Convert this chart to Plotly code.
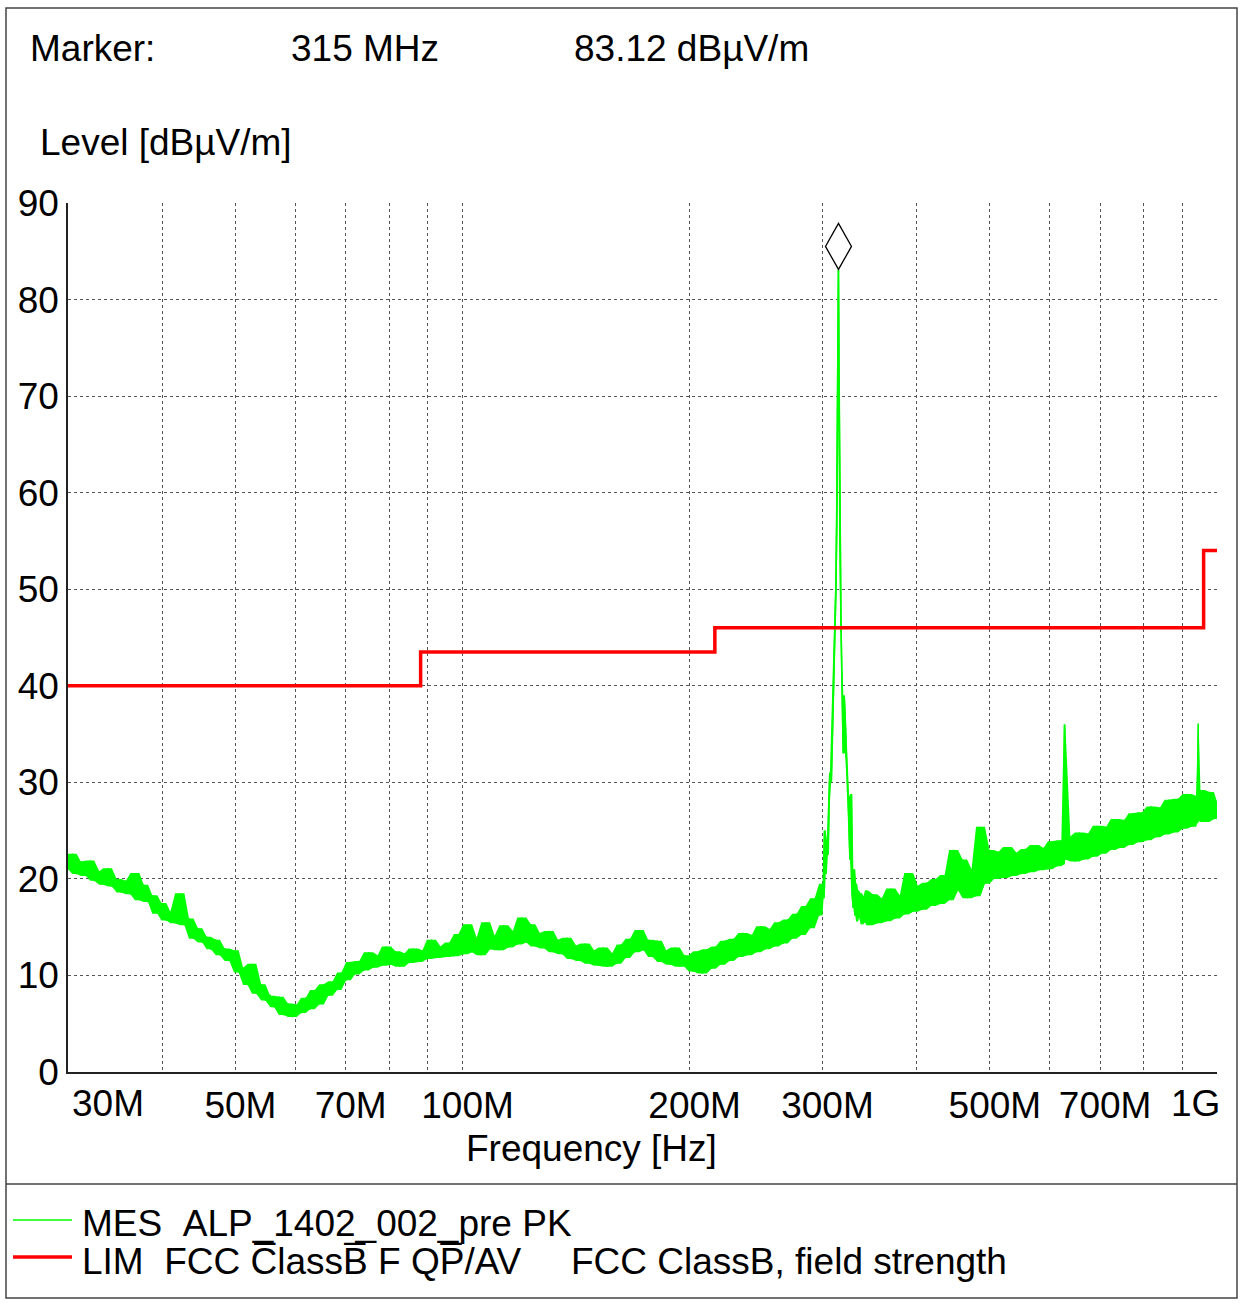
import math
import plotly.graph_objects as go

# ---------------- data ----------------
freq_mhz = [
    30.0, 30.4, 30.8, 31.2, 31.7, 32.1, 32.5, 33.0, 33.4, 33.9, 34.3, 34.8, 35.3, 35.8, 36.3, 36.8,
    37.3, 37.8, 38.3, 38.8, 39.4, 39.9, 40.5, 41.0, 41.6, 42.2, 42.8, 43.4, 44.0, 44.6, 45.2, 45.8,
    46.4, 47.1, 47.7, 48.4, 49.1, 49.8, 50.5, 51.2, 51.9, 52.6, 53.3, 54.1, 54.8, 55.6, 56.3, 57.1,
    57.9, 58.7, 59.5, 60.3,
    61.1, 62.0, 62.8, 63.7, 64.6, 65.5, 66.4, 67.3, 68.2, 69.1, 70.1, 71.1, 72.0, 73.0, 74.0, 75.1,
    76.1, 77.2, 78.2, 79.3, 80.4, 81.5, 82.6, 83.8, 84.9, 86.1, 87.3, 88.5, 89.7, 91.0, 92.2, 93.5,
    94.8, 96.1, 97.4, 98.8, 100.2,
    101.6, 103.0, 104.4, 105.9, 107.3, 108.8, 110.3, 111.9, 113.4, 115.0, 116.6, 118.2, 119.8, 121.5,
    123.2, 124.9, 126.6, 128.4, 130.2, 132.0, 133.8, 135.7, 137.5, 139.4, 141.4, 143.3, 145.3, 147.4,
    149.4, 151.5, 153.6, 155.7, 157.9, 160.1, 162.3, 164.5, 166.8, 169.1, 171.5, 173.8, 176.2, 178.7,
    181.2, 183.7, 186.2, 188.8, 191.4, 194.1, 196.8, 199.5,
    202.3, 205.1, 207.9, 210.8, 213.7, 216.6, 219.6, 222.7, 225.7, 228.9, 232.0, 235.2, 238.5, 241.8,
    245.1, 248.5, 251.9, 255.4, 258.9, 262.5, 266.1, 269.8, 273.5, 277.3, 281.1, 285.0, 288.9, 292.9,
    296.9, 300.0,
    301.0, 302.1, 303.0, 304.0, 305.0, 306.0, 306.9, 308.0, 309.0, 310.1, 311.0, 311.7, 312.5, 313.3,
    314.2, 315.0, 315.6, 316.5, 317.3, 318.1, 318.8, 319.7, 320.5, 321.3, 322.2, 323.0, 323.8, 324.6,
    325.4, 326.3, 327.5, 328.6, 329.6, 330.5, 331.5, 332.5, 333.5, 334.5, 335.5, 337.0, 338.5, 340.0,
    341.5, 343.0,
    345.0, 349.8, 354.6, 359.5, 364.5, 369.5, 374.6, 379.8, 385.0, 390.3, 395.7, 401.2, 406.7, 412.3,
    418.0, 423.8, 429.6, 435.5, 441.5, 447.6, 453.8, 460.0, 466.4, 472.8, 479.3, 485.9, 492.6, 499.4,
    506.3, 513.3, 520.4, 527.6, 534.9, 542.3, 549.8, 557.4, 565.1, 572.9, 580.8, 588.8, 596.9, 605.1,
    613.4, 621.9, 626.5, 628.0, 629.5, 639.2, 648.0, 656.9, 666.0, 675.2, 684.5, 693.9, 703.5, 713.2,
    723.0, 733.0, 743.1, 753.4, 763.8, 774.3, 785.0, 795.8, 806.8, 817.9, 829.2, 840.6, 852.2, 864.0,
    875.9, 888.0, 900.2, 912.6, 925.2, 937.9, 942.5, 944.0, 945.5, 950.8, 963.9, 977.2, 990.7, 1000.0,
]

level_dbuv = [
    21.0, 22.6, 20.5, 21.8, 20.3, 21.9, 19.8, 20.8, 19.4, 21.1, 19.2, 20.0, 18.6, 19.8, 18.4, 20.6,
    17.8, 19.4, 17.6, 18.3, 16.4, 17.5, 15.7, 16.6, 15.4, 18.5, 15.2, 15.9, 13.8, 14.9, 13.4, 14.0,
    12.7, 13.7, 12.1, 12.8, 11.5, 12.6, 10.3, 10.8, 9.0, 11.2, 8.1, 9.1, 7.4, 7.9, 6.7, 7.8,
    5.9, 7.1, 5.7, 7.0,
    6.1, 7.7, 6.5, 8.5, 7.0, 9.1, 7.9, 9.4, 8.5, 10.3, 9.5, 11.4, 10.1, 11.5, 10.5, 12.4,
    10.8, 12.1, 11.0, 13.0, 11.1, 12.5, 10.9, 12.3, 11.3, 12.8, 11.4, 12.6, 11.7, 13.7, 11.8, 13.0,
    11.9, 13.4, 12.0, 14.3, 12.2,
    15.3, 12.4, 13.9, 12.1, 15.5, 12.7, 14.1, 12.6, 15.2, 12.9, 14.6, 13.2, 16.0, 13.4,
    15.3, 13.0, 14.4, 12.8, 14.6, 12.4, 13.7, 12.2, 13.9, 11.7, 13.1, 11.5, 13.3, 11.2,
    12.6, 11.0, 12.9, 10.9, 12.3, 11.2, 13.2, 11.8, 13.8, 12.4, 14.7, 12.6, 13.7, 11.9,
    13.6, 11.4, 12.6, 11.1, 12.9, 10.9, 12.1, 11.3,
    10.4, 12.5, 10.2, 12.7, 10.7, 13.0, 11.1, 13.6, 11.5, 13.8, 11.9, 14.4, 12.1, 14.2,
    12.4, 15.1, 12.7, 14.8, 13.0, 15.5, 13.3, 15.8, 13.8, 16.4, 14.2, 17.2, 14.9, 18.0,
    16.2, 19.5,
    18.0, 25.0, 20.5, 24.0, 22.5, 28.0, 31.0, 30.0, 35.0, 38.0, 42.0, 47.5, 50.0, 57.0,
    68.0, 83.12, 70.0, 54.5, 47.0, 42.0, 38.0, 33.0, 39.0, 37.0, 33.0, 31.5, 29.5, 28.5,
    25.0, 22.0, 28.8, 18.5, 17.0, 21.0, 16.2, 19.5, 15.6, 18.8, 16.0, 18.5, 15.3, 18.2,
    15.5, 18.8,
    15.2, 18.4, 15.4, 18.0, 15.6, 19.0, 15.9, 18.3, 16.3, 20.6, 16.6, 19.3, 16.8, 19.6,
    17.2, 20.0, 17.4, 20.4, 17.8, 23.0, 18.8, 22.0, 18.0, 21.0, 18.2, 25.4, 19.5, 23.0,
    20.0, 22.8, 20.1, 23.3, 20.3, 22.7, 20.5, 23.1, 20.7, 23.5, 20.9, 23.2, 21.0, 23.9,
    21.3, 24.0, 21.5, 36.0, 22.0, 24.4, 21.8, 24.8, 22.0, 24.7, 22.3, 25.5, 22.6, 25.4,
    23.0, 26.2, 23.2, 26.1, 23.5, 26.8, 23.8, 26.9, 24.0, 27.5, 24.3, 27.4, 24.6, 28.2,
    24.8, 28.3, 25.2, 28.8, 25.4, 28.6, 25.8, 36.1, 26.0, 29.2, 25.9, 29.0, 26.2, 28.0,
]

limit_freq_mhz = [30.0, 88.0, 216.0, 960.0, 1000.0]
limit_level = [40.0, 43.5, 46.0, 54.0, 54.0]

marker_freq_mhz = 315.0
marker_level = 83.12

grid_freq_mhz = [30, 40, 50, 60, 70, 80, 90, 100, 200, 300, 400, 500, 600, 700, 800, 900, 1000]
label_freq_mhz = [50, 70, 100, 200, 300, 500, 700]
label_text = ["50M", "70M", "100M", "200M", "300M", "500M", "700M"]
end_labels = [(30, "30M"), (1000, "1G")]
y_ticks = [0, 10, 20, 30, 40, 50, 60, 70, 80, 90]

mes_name = "MES\u00a0\u00a0ALP_1402_002_pre PK"
lim_name = "LIM\u00a0\u00a0FCC C\u0305lassB\u0305 F QP\u0305/AV"
lim_desc = "FCC ClassB, field strength"

# ---------------- layout geometry ----------------
W, H = 1241, 1305
L, R, T, B = 68, 1217, 203, 1072
FONT = "Liberation Sans, Arial, sans-serif"
FS = 37
GREEN = "#00ff00"
RED = "#ff0000"


def px(x):
    return (x - L) / (R - L)


def py(y):
    return (B - y) / (B - T)


freq_hz = [f * 1e6 for f in freq_mhz]
limit_hz = [f * 1e6 for f in limit_freq_mhz]

# local envelope of the measured trace (neighbouring sweep points)
n = len(level_dbuv)
upper = [max(level_dbuv[max(0, i - 1):min(n, i + 2)]) for i in range(n)]
lower = [min(level_dbuv[max(0, i - 1):min(n, i + 2)]) for i in range(n)]

fig = go.Figure()
fig.add_trace(go.Scatter(x=freq_hz, y=lower, mode="lines", line=dict(width=0, color=GREEN),
                         showlegend=False, hoverinfo="skip"))
fig.add_trace(go.Scatter(x=freq_hz, y=upper, mode="lines", line=dict(width=0, color=GREEN),
                         fill="tonexty", fillcolor=GREEN, showlegend=False, hoverinfo="skip"))
fig.add_trace(go.Scatter(x=freq_hz, y=level_dbuv, mode="lines",
                         line=dict(color=GREEN, width=1.6), showlegend=False, name=mes_name))
fig.add_trace(go.Scatter(x=limit_hz, y=limit_level, mode="lines",
                         line=dict(color=RED, width=3.5, shape="hv"), showlegend=False,
                         name=lim_name))

ticktext = []
for g in grid_freq_mhz:
    ticktext.append(label_text[label_freq_mhz.index(g)] if g in label_freq_mhz else "")

fig.update_xaxes(type="log", range=[math.log10(30e6), math.log10(1e9)],
                 tickvals=[g * 1e6 for g in grid_freq_mhz], ticktext=ticktext,
                 showgrid=True, gridcolor="#555555", griddash="dot", gridwidth=1,
                 showline=True, linecolor="#222222", linewidth=1.5, ticks="",
                 ticklabelshift=5, ticklabelstandoff=0,
                 tickfont=dict(family=FONT, size=FS, color="black"), zeroline=False)
fig.update_yaxes(range=[0, 90], tickvals=y_ticks,
                 showgrid=True, gridcolor="#555555", griddash="dot", gridwidth=1,
                 showline=True, linecolor="#222222", linewidth=1.5, ticks="",
                 ticklabelstandoff=0,
                 tickfont=dict(family=FONT, size=FS, color="black"), zeroline=False)

ann = []
for f, t in end_labels:
    ann.append(dict(x=math.log10(f * 1e6), xref="x", y=py(1103), yref="paper", text=t,
                    showarrow=False, xanchor="left" if f == 30 else "right",
                    xshift=2 if f == 30 else 5, yanchor="middle",
                    font=dict(family=FONT, size=FS, color="black")))


def txt(x, y, s, anchor="left"):
    ann.append(dict(x=px(x), y=py(y), xref="paper", yref="paper", text=s, showarrow=False,
                    xanchor=anchor, yanchor="middle", font=dict(family=FONT, size=FS, color="black")))


txt(28, 48, "Marker:")
txt(289, 48, f"{marker_freq_mhz:g} MHz")
txt(572, 48, f"{marker_level:.2f} dBµV/m")
txt(38, 143, "Level [dBµV/m]")
txt(591, 1148, "Frequency [Hz]", "center")
txt(80, 1223, mes_name)
txt(80, 1261, lim_name)
txt(569, 1261, lim_desc)
fig.update_layout(annotations=ann)

shapes = [
    dict(type="rect", xref="paper", yref="paper", x0=px(6), x1=px(1237), y0=py(8), y1=py(1298),
         line=dict(color="#444444", width=1.5), layer="below"),
    dict(type="line", xref="paper", yref="paper", x0=px(6), x1=px(1237), y0=py(1184), y1=py(1184),
         line=dict(color="#444444", width=1.5)),
    dict(type="line", xref="paper", yref="paper", x0=px(13), x1=px(72), y0=py(1220), y1=py(1220),
         line=dict(color=GREEN, width=1.6)),
    dict(type="line", xref="paper", yref="paper", x0=px(13), x1=px(72), y0=py(1257), y1=py(1257),
         line=dict(color=RED, width=3.5)),
    # marker diamond, bottom tip anchored at the marker value
    dict(type="path", xref="x", yref="y", xsizemode="pixel", ysizemode="pixel",
         xanchor=marker_freq_mhz * 1e6, yanchor=marker_level,
         path="M 0 0 L 13 23 L 0 46 L -13 23 Z", line=dict(color="black", width=1.3)),
]
fig.update_layout(shapes=shapes)

fig.update_layout(width=W, height=H, margin=dict(l=L, r=W - R, t=T, b=H - B, autoexpand=False),
                  paper_bgcolor="white", plot_bgcolor="white")

fig.write_html("out.html", config={"displayModeBar": False},
               post_script="document.body.style.margin='0px';")
